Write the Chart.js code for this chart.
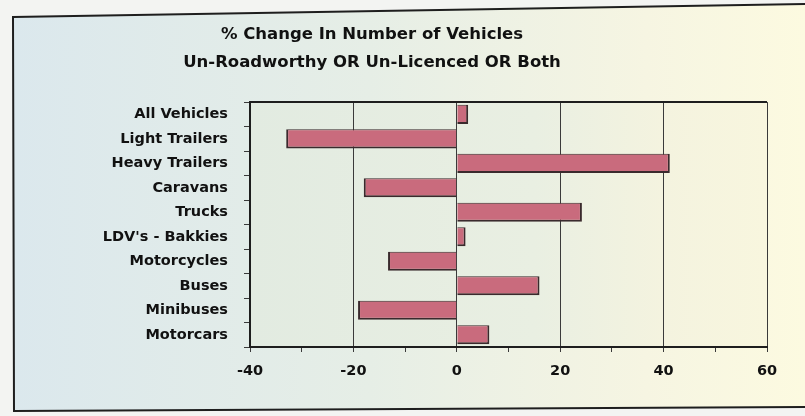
<!DOCTYPE html>
<html><head><meta charset="utf-8">
<script src="https://cdn.jsdelivr.net/npm/chart.js@4"></script>
<style>html,body{margin:0;padding:0;background:#f3f4f2;overflow:hidden}#wrap{width:805px;height:416px;position:relative}</style>
</head><body><div id="wrap"><canvas id="c" width="805" height="416"></canvas></div>
<script>
const categories = ['All Vehicles', 'Light Trailers', 'Heavy Trailers', 'Caravans', 'Trucks', "LDV's - Bakkies", 'Motorcycles', 'Buses', 'Minibuses', 'Motorcars'];
const pctChange = [2.2, -33, 41.2, -18, 24.2, 1.7, -13.3, 16, -19.1, 6.3];
const xLabelValues = [-40, -20, 0, 20, 40, 60];
const titleLines = ['% Change In Number of Vehicles', 'Un-Roadworthy OR Un-Licenced OR Both'];

const FONT = "'DejaVu Sans', 'Liberation Sans', Arial, sans-serif";

const backdrop = {
  id: 'backdrop',
  beforeDraw(chart) {
    const ctx = chart.ctx, W = chart.width, H = chart.height;
    ctx.save();
    ctx.fillStyle = '#f3f4f2';
    ctx.fillRect(0, 0, W, H);
    const g = ctx.createLinearGradient(13, 0, 805, 0);
    g.addColorStop(0, '#dbe8ed');
    g.addColorStop(0.45, '#e6eee6');
    g.addColorStop(0.8, '#f6f5e2');
    g.addColorStop(1, '#fcfae0');
    ctx.beginPath();
    ctx.moveTo(13, 17); ctx.lineTo(812, 4); ctx.lineTo(812, 407); ctx.lineTo(14, 411); ctx.closePath();
    ctx.fillStyle = g; ctx.fill();
    ctx.lineWidth = 2; ctx.strokeStyle = '#1e1e1e'; ctx.stroke();
    const a = chart.chartArea;
    const g2 = ctx.createLinearGradient(a.left, 0, a.right, 0);
    g2.addColorStop(0, '#e2ebe1');
    g2.addColorStop(0.55, '#e9efe2');
    g2.addColorStop(0.8, '#f4f3df');
    g2.addColorStop(1, '#f8f6de');
    ctx.fillStyle = g2;
    ctx.fillRect(a.left, a.top, a.right - a.left, a.bottom - a.top);
    ctx.restore();
  },
  afterDraw(chart) {
    const ctx = chart.ctx, a = chart.chartArea;
    ctx.save();
    ctx.strokeStyle = '#1e1e1e'; ctx.lineWidth = 2;
    ctx.beginPath(); ctx.moveTo(a.left, a.top); ctx.lineTo(a.right, a.top); ctx.stroke();
    ctx.restore();
  }
};

new Chart(document.getElementById('c'), {
  type: 'bar',
  data: {
    labels: categories,
    datasets: [{
      data: pctChange,
      backgroundColor: '#c96b7d',
      borderColor: '#3a2a2d',
      borderWidth: {top: 1, right: 2, bottom: 2, left: 2},
      categoryPercentage: 1.0,
      barPercentage: 0.78
    }]
  },
  plugins: [backdrop],
  options: {
    indexAxis: 'y',
    responsive: false,
    animation: false,
    devicePixelRatio: 1,
    layout: {padding: {left: -23, right: 38, top: 0, bottom: 0}},
    plugins: {
      legend: {display: false},
      tooltip: {enabled: false},
      title: {
        display: true,
        text: titleLines,
        color: '#111',
        font: {family: FONT, size: 16.5, weight: 'bold', lineHeight: 1.7},
        padding: {top: 21, bottom: 25}
      }
    },
    scales: {
      x: {
        type: 'linear',
        min: -40, max: 60,
        ticks: {
          stepSize: 10,
          color: '#111',
          font: {family: FONT, size: 14.5, weight: 'bold'},
          padding: 11,
          maxRotation: 0,
          autoSkip: false,
          callback: (v) => xLabelValues.includes(v) ? String(v) : ''
        },
        grid: {
          color: (c) => (c.tick && xLabelValues.includes(c.tick.value)) ? '#3a3a3a' : 'rgba(0,0,0,0)',
          tickColor: '#3a3a3a',
          tickLength: 5,
          lineWidth: 1
        },
        border: {display: true, color: '#1e1e1e', width: 2},
        afterFit: (s) => { s.height = 69; }
      },
      y: {
        ticks: {
          color: '#111',
          font: {family: FONT, size: 14.5, weight: 'bold'},
          padding: 16,
          autoSkip: false
        },
        grid: {
          offset: true,
          drawOnChartArea: false,
          tickColor: '#3a3a3a',
          tickLength: 6
        },
        border: {display: true, color: '#1e1e1e', width: 2},
        afterFit: (s) => { s.width = 273; }
      }
    }
  }
});
</script>
</body></html>
